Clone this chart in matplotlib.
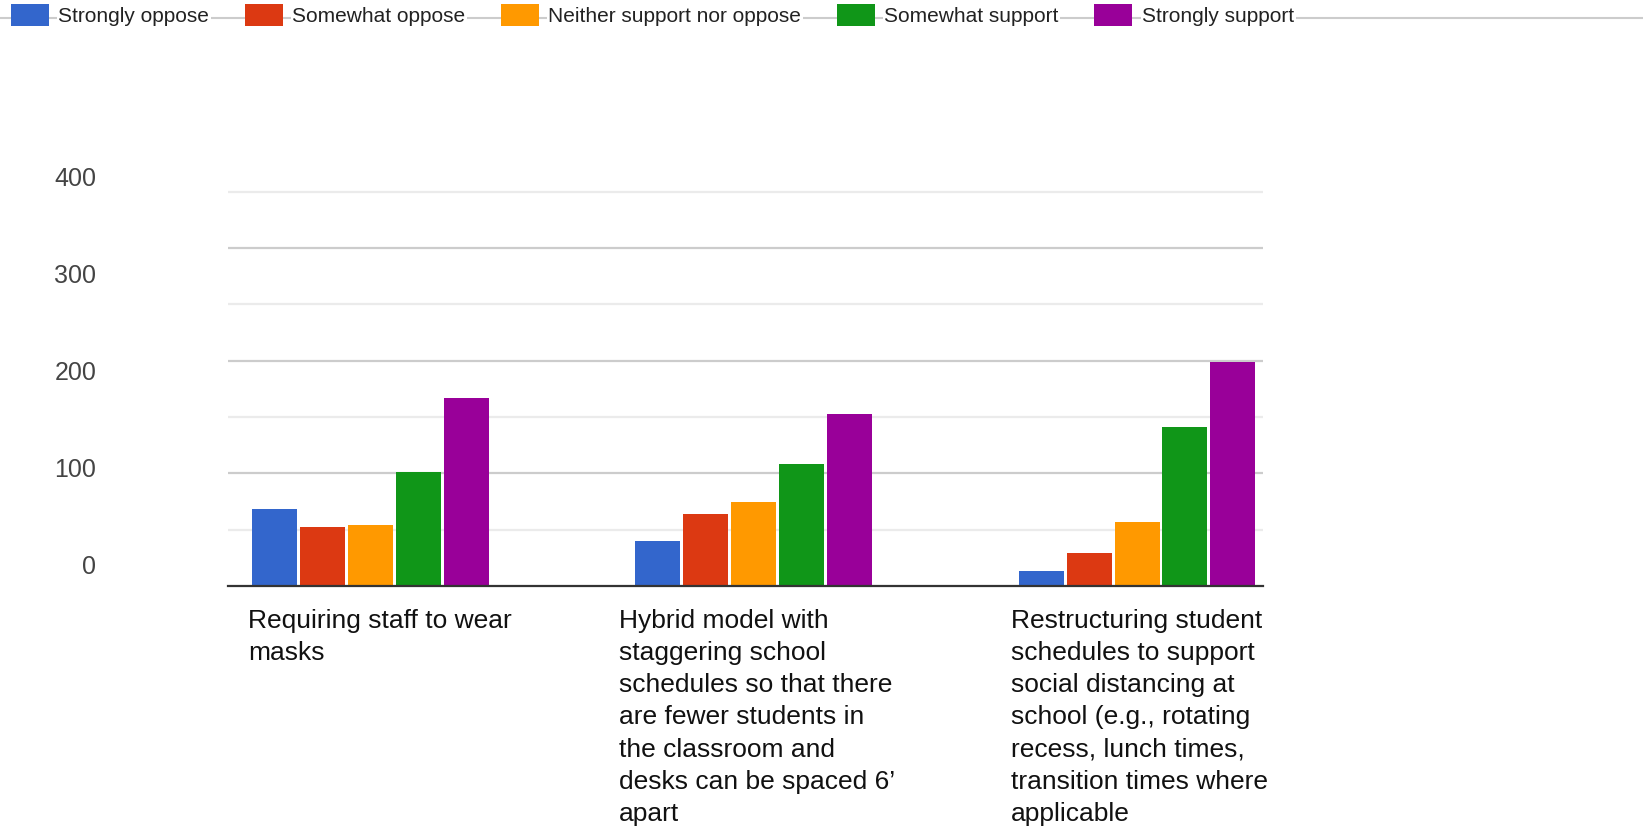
import matplotlib
matplotlib.use("Agg")
import matplotlib.pyplot as plt
import matplotlib.transforms as mtransforms
from matplotlib.patches import Patch
from matplotlib.lines import Line2D
import numpy as np

# --- data ---
categories = [
    "Requiring staff to wear\nmasks",
    "Hybrid model with\nstaggering school\nschedules so that there\nare fewer students in\nthe classroom and\ndesks can be spaced 6\u2019\napart",
    "Restructuring student\nschedules to support\nsocial distancing at\nschool (e.g., rotating\nrecess, lunch times,\ntransition times where\napplicable",
]
series_names = ["Strongly oppose", "Somewhat oppose", "Neither support nor oppose",
                "Somewhat support", "Strongly support"]
strongly_oppose = [68, 40, 13]
somewhat_oppose = [52, 64, 29]
neither = [54, 75, 57]
somewhat_support = [101, 108, 141]
strongly_support = [167, 153, 199]
y_tick_labels = [0, 100, 200, 300, 400]

colors = ["#3366cc", "#dc3912", "#ff9900", "#109618", "#990099"]
values = [strongly_oppose, somewhat_oppose, neither, somewhat_support, strongly_support]

plt.rcParams['font.family'] = ['Liberation Sans', 'DejaVu Sans']

W, H = 1643, 827
fig = plt.figure(figsize=(W / 100, H / 100), dpi=100)

# plot area in pixels
left_px, right_px = 228, 1263.5
base_px, top_px = 586, 189.6
ax = fig.add_axes([left_px / W, (H - base_px) / H,
                   (right_px - left_px) / W, (base_px - top_px) / H])

x = np.arange(len(categories))
pitch, width = 0.125, 0.1174
for i, (name, vals) in enumerate(zip(series_names, values)):
    ax.bar(x + (i - 2) * pitch, vals, width, color=colors[i], label=name,
           linewidth=0, zorder=3)

ax.set_xlim(-0.3718, 2.33)
ax.set_ylim(0, 352)
ax.set_yticks([100, 200, 300])
ax.set_yticks([50, 150, 250, 350], minor=True)
ax.grid(axis='y', which='major', color='#cccccc', linewidth=1.6, zorder=0)
ax.grid(axis='y', which='minor', color='#ebebeb', linewidth=1.6, zorder=0)
ax.tick_params(axis='y', which='both', length=0, labelleft=False)
for s in ['top', 'right', 'left']:
    ax.spines[s].set_visible(False)
ax.spines['bottom'].set_color('#333333')
ax.spines['bottom'].set_linewidth(1.6)
ax.spines['bottom'].set_zorder(4)

ax.set_xticks(x)
ax.set_xticklabels(categories, fontsize=19, color='#111111', linespacing=1.43)
ax.tick_params(axis='x', length=0, pad=16.5)
label_shift_px = [9.4, 3, 2]
for lbl, dx in zip(ax.get_xticklabels(), label_shift_px):
    lbl.set_multialignment('left')
    lbl.set_transform(lbl.get_transform() +
                      mtransforms.ScaledTranslation(dx / 100, 0, fig.dpi_scale_trans))

# y labels (spacing in the source differs from the grid)
lab_top, lab_bot = 176, 565
lab_ax = fig.add_axes([left_px / W, (H - lab_bot) / H, 0.001, (lab_bot - lab_top) / H])
lab_ax.set_ylim(0, 400)
lab_ax.set_yticks(y_tick_labels)
lab_ax.set_yticklabels([str(v) for v in y_tick_labels], fontsize=18, color='#444444')
lab_ax.tick_params(axis='y', length=0, pad=(left_px - 96.4) * 0.72)
lab_ax.set_xticks([])
lab_ax.patch.set_visible(False)
for s in lab_ax.spines.values():
    s.set_visible(False)

# legend with the grey line running through it
fig.add_artist(Line2D([0, 1], [1 - 18 / H, 1 - 18 / H], transform=fig.transFigure,
                      color='#cccccc', linewidth=1.5, zorder=0))
handles = [Patch(facecolor=c, edgecolor='none') for c in colors]
leg = fig.legend(handles, series_names, loc='upper left',
                 bbox_to_anchor=(10.5 / W, 1 - 4.4 / H), ncol=5, frameon=False,
                 fontsize=15, handlelength=1.83, handleheight=1.25,
                 handletextpad=0.46, columnspacing=1.7, borderpad=0,
                 borderaxespad=0)
leg.set_zorder(5)
for t in leg.get_texts():
    t.set_color('#222222')
    t.set_bbox(dict(facecolor='white', edgecolor='none', pad=1))

fig.savefig("out.png", dpi=100)
